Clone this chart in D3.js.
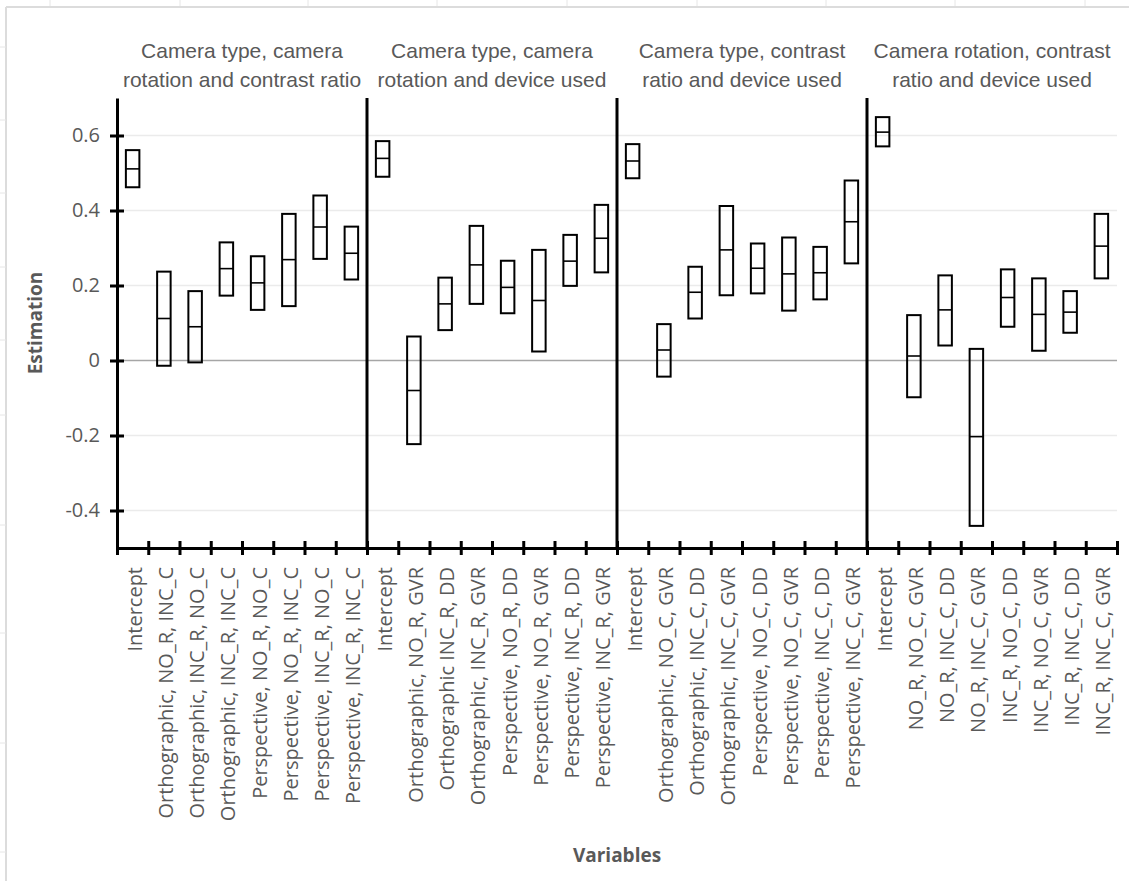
<!DOCTYPE html>
<html><head><meta charset="utf-8">
<script src="https://cdn.jsdelivr.net/npm/d3@7"></script>
<style>html,body{margin:0;padding:0;background:#fff;}svg{display:block;}</style>
</head><body>
<script>
const panelTitles = [
  ["Camera type, camera", "rotation and contrast ratio"],
  ["Camera type, camera", "rotation and device used"],
  ["Camera type, contrast", "ratio and device used"],
  ["Camera rotation, contrast", "ratio and device used"]
];
const categories = [
  "Intercept","Orthographic, NO_R, INC_C","Orthographic, INC_R, NO_C","Orthographic, INC_R, INC_C","Perspective, NO_R, NO_C","Perspective, NO_R, INC_C","Perspective, INC_R, NO_C","Perspective, INC_R, INC_C",
  "Intercept","Orthographic, NO_R, GVR","Orthographic INC_R, DD","Orthographic, INC_R, GVR","Perspective, NO_R, DD","Perspective, NO_R, GVR","Perspective, INC_R, DD","Perspective, INC_R, GVR",
  "Intercept","Orthographic, NO_C, GVR","Orthographic, INC_C, DD","Orthographic, INC_C, GVR","Perspective, NO_C, DD","Perspective, NO_C, GVR","Perspective, INC_C, DD","Perspective, INC_C, GVR",
  "Intercept","NO_R, NO_C, GVR","NO_R, INC_C, DD","NO_R, INC_C, GVR","INC_R, NO_C, DD","INC_R, NO_C, GVR","INC_R, INC_C, DD","INC_R, INC_C, GVR"
];
const highs = [
  0.561, 0.237, 0.185, 0.315, 0.278, 0.391, 0.440, 0.357,
  0.585, 0.064, 0.221, 0.359, 0.266, 0.295, 0.335, 0.415,
  0.577, 0.097, 0.250, 0.412, 0.312, 0.328, 0.303, 0.480,
  0.649, 0.121, 0.227, 0.031, 0.243, 0.219, 0.185, 0.391
];
const mids = [
  0.511, 0.112, 0.090, 0.245, 0.207, 0.269, 0.356, 0.286,
  0.539, -0.080, 0.151, 0.255, 0.195, 0.160, 0.265, 0.326,
  0.532, 0.028, 0.182, 0.295, 0.246, 0.231, 0.234, 0.370,
  0.609, 0.012, 0.135, -0.203, 0.168, 0.123, 0.129, 0.305
];
const lows = [
  0.462, -0.014, -0.005, 0.173, 0.135, 0.145, 0.271, 0.216,
  0.490, -0.223, 0.081, 0.151, 0.126, 0.024, 0.199, 0.235,
  0.486, -0.043, 0.112, 0.174, 0.179, 0.133, 0.163, 0.259,
  0.571, -0.098, 0.040, -0.441, 0.090, 0.026, 0.074, 0.219
];
const yTicks = [-0.4, -0.2, 0, 0.2, 0.4, 0.6];
const yTickLabels = ["-0.4", "-0.2", "0", "0.2", "0.4", "0.6"];
const perPanel = 8;

const W = 1129, H = 881;
const pLeft = 117, pRight = 1117, pTop = 98, pBottom = 548;
const textCol = "#595959";

const svg = d3.select("body").append("svg").attr("width", W).attr("height", H);

// faint sheet frame
const frame = svg.append("g");
frame.append("line").attr("x1", 6).attr("x2", W).attr("y1", 7).attr("y2", 7).attr("stroke", "#dcdcdc").attr("stroke-width", 2);
frame.append("line").attr("x1", 6).attr("x2", 6).attr("y1", 7).attr("y2", H).attr("stroke", "#dcdcdc").attr("stroke-width", 2);
[50, 180, 308, 437, 567, 697, 826, 955, 1085].forEach(x => frame.append("line").attr("x1", x).attr("x2", x).attr("y1", 0).attr("y2", 6).attr("stroke", "#e6e6e6"));
[47, 120, 193, 267, 340, 415, 525, 633, 743, 852].forEach(yy => frame.append("line").attr("x1", 0).attr("x2", 6).attr("y1", yy).attr("y2", yy).attr("stroke", "#e6e6e6"));

const y = d3.scaleLinear().domain([-0.5, 0.7]).range([pBottom, pTop]);
const xb = d3.scaleBand().domain(d3.range(categories.length)).range([pLeft, pRight]).padding(0);
const xEdge = d3.scaleLinear().domain([0, categories.length]).range([pLeft, pRight]);

// gridlines
svg.append("g").selectAll("line").data(yTicks).join("line")
  .attr("x1", pLeft).attr("x2", pRight)
  .attr("y1", d => y(d)).attr("y2", d => y(d))
  .attr("stroke", d => d === 0 ? "#a6a6a6" : "#ebebeb")
  .attr("stroke-width", d => d === 0 ? 1.6 : 1.5);

// boxes
const boxW = 13.5;
const boxes = svg.append("g");
categories.forEach((c, i) => {
  const cx = xb(i) + xb.bandwidth() / 2;
  boxes.append("rect")
    .attr("x", cx - boxW / 2).attr("width", boxW)
    .attr("y", y(highs[i])).attr("height", y(lows[i]) - y(highs[i]))
    .attr("fill", "none").attr("stroke", "#000").attr("stroke-width", 2);
  boxes.append("line")
    .attr("x1", cx - boxW / 2).attr("x2", cx + boxW / 2)
    .attr("y1", y(mids[i])).attr("y2", y(mids[i]))
    .attr("stroke", "#000").attr("stroke-width", 1.6);
});

// panel separators
svg.append("g").selectAll("line").data([1, 2, 3]).join("line")
  .attr("x1", d => xEdge(d * perPanel)).attr("x2", d => xEdge(d * perPanel))
  .attr("y1", pTop).attr("y2", pBottom)
  .attr("stroke", "#000").attr("stroke-width", 3);

// y axis
const yAxis = svg.append("g").attr("transform", `translate(${pLeft},0)`)
  .call(d3.axisLeft(y).tickValues(yTicks).tickFormat((d, i) => yTickLabels[i]).tickSizeInner(7).tickSizeOuter(0).tickPadding(10));
yAxis.attr("font-size", null).attr("font-family", null);
yAxis.select(".domain").attr("stroke", "#000").attr("stroke-width", 3);
yAxis.selectAll(".tick line").attr("x1", 7).attr("stroke", "#000").attr("stroke-width", 3);
yAxis.selectAll(".tick text").attr("font-family", "'Open Sans', sans-serif").attr("font-size", 20).attr("fill", textCol);

// x axis
const xAxis = svg.append("g").attr("transform", `translate(0,${pBottom})`)
  .call(d3.axisBottom(xEdge).tickValues(d3.range(categories.length + 1)).tickFormat("").tickSizeInner(7).tickSizeOuter(0));
xAxis.select(".domain").attr("stroke", "#000").attr("stroke-width", 3);
xAxis.selectAll(".tick line").attr("y1", -7).attr("stroke", "#000").attr("stroke-width", 3);

// x labels
svg.append("g").selectAll("text").data(categories).join("text")
  .attr("transform", (d, i) => `translate(${xb(i) + xb.bandwidth() / 2},567) rotate(-90)`)
  .attr("dy", 9)
  .attr("text-anchor", "end")
  .attr("font-family", "'Open Sans', sans-serif").attr("font-size", 20).attr("fill", textCol)
  .text(d => d);

// panel titles
panelTitles.forEach((lines, p) => {
  const cx = (xEdge(p * perPanel) + xEdge((p + 1) * perPanel)) / 2;
  lines.forEach((t, k) => {
    svg.append("text").attr("x", cx).attr("y", 58 + k * 29)
      .attr("text-anchor", "middle")
      .attr("font-family", "'Liberation Sans', Arial, sans-serif").attr("font-size", 21).attr("fill", textCol)
      .text(t);
  });
});

// axis titles
svg.append("text").attr("transform", `translate(42,${(pTop + pBottom) / 2}) rotate(-90)`)
  .attr("text-anchor", "middle").attr("font-family", "'Open Sans', sans-serif").attr("font-weight", "bold")
  .attr("font-size", 19).attr("fill", textCol).text("Estimation");
svg.append("text").attr("x", (pLeft + pRight) / 2).attr("y", 862)
  .attr("text-anchor", "middle").attr("font-family", "'Open Sans', sans-serif").attr("font-weight", "bold")
  .attr("font-size", 19).attr("fill", textCol).text("Variables");
</script>
</body></html>
